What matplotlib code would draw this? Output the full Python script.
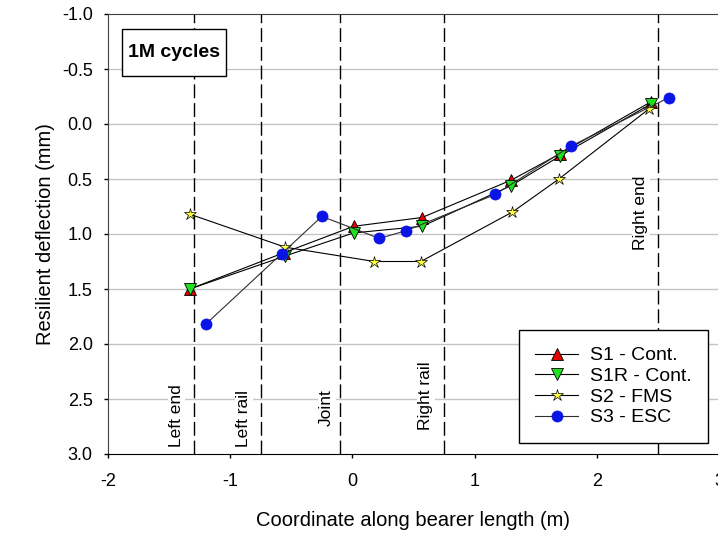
import matplotlib
matplotlib.use('Agg')
import matplotlib.pyplot as plt
from matplotlib.patches import Rectangle

plt.rcParams['font.family'] = ['Liberation Sans', 'DejaVu Sans']
plt.rcParams['font.size'] = 13
plt.rcParams['axes.unicode_minus'] = False

# 数据
s1_x = [-1.33, -0.56, 0.01, 0.57, 1.30, 1.70, 2.44]
s1_y = [1.50, 1.17, 0.93, 0.85, 0.51, 0.27, -0.20]
s1r_x = [-1.33, -0.55, 0.01, 0.57, 1.30, 1.70, 2.44]
s1r_y = [1.50, 1.20, 0.99, 0.93, 0.56, 0.29, -0.18]
s2_x = [-1.33, -0.55, 0.18, 0.56, 1.31, 1.69, 2.43]
s2_y = [0.82, 1.12, 1.25, 1.25, 0.80, 0.50, -0.14]
s3_x = [-1.20, -0.58, -0.25, 0.22, 0.44, 1.17, 1.79, 2.59]
s3_y = [1.82, 1.18, 0.84, 1.04, 0.97, 0.64, 0.20, -0.24]

# 参考线位置和标签
ref_x = [-1.3, -0.75, -0.1, 0.75, 2.5]
ref_labels = ['Left end', 'Left rail', 'Joint', 'Right rail', 'Right end']
ref_label_x = [-1.44, -0.89, -0.21, 0.60, 2.36]
ref_label_y = [2.94, 2.94, 2.75, 2.78, 1.15]

yticks = [-1.0, -0.5, 0.0, 0.5, 1.0, 1.5, 2.0, 2.5, 3.0]

fig = plt.figure(figsize=(7.18, 5.37), dpi=100)
ax = fig.add_axes([108 / 718, 83 / 537, 611 / 718, 440 / 537])

# 水平网格线
for g in yticks[1:-1]:
    ax.axhline(g, color='#c4c4c4', lw=1, zorder=0)

# 竖直虚线和标签
for xv in ref_x:
    ax.axvline(xv, color='black', lw=1, ls=(0, (10, 3.5)), zorder=1)
for xl, yl, lab in zip(ref_label_x, ref_label_y, ref_labels):
    ax.text(xl, yl, lab, rotation=90, ha='center', va='bottom', fontsize=12.5,
            bbox=dict(facecolor='white', edgecolor='none', pad=1), zorder=2)

# 数据线
ax.plot(s1_x, s1_y, color='black', lw=0.8, marker='^', ms=8, mfc='#e00000',
        mec='black', mew=0.6, label='S1 - Cont.', zorder=3)
ax.plot(s1r_x, s1r_y, color='black', lw=0.8, marker='v', ms=8, mfc='#20e020',
        mec='black', mew=0.6, label='S1R - Cont.', zorder=3)
ax.plot(s2_x, s2_y, color='black', lw=0.8, marker='*', ms=9, mfc='#ffff40',
        mec='black', mew=0.5, label='S2 - FMS', zorder=3)
ax.plot(s3_x, s3_y, color='#303030', lw=0.8, marker='o', ms=8, mfc='#0a14e6',
        mec='#0a14e6', mew=0.5, label='S3 - ESC', zorder=3)

ax.set_xlim(-2, 3)
ax.set_ylim(3.0, -1.0)
ax.set_xticks([-2, -1, 0, 1, 2, 3])
ax.set_yticks(yticks)
ax.set_yticklabels([f'{v:.1f}' for v in yticks])
ax.tick_params(direction='out', length=3, width=1, labelsize=13)
ax.tick_params(axis='x', pad=11)
ax.tick_params(axis='y', pad=8)
ax.set_xlabel('Coordinate along bearer length (m)', fontsize=14.5, labelpad=15)
ax.set_ylabel('Resilient deflection (mm)', fontsize=14.5, labelpad=5)
ax.spines['right'].set_visible(False)
ax.spines['top'].set_color('#404040')
ax.spines['left'].set_color('#404040')

# "1M cycles" 标注框
ax.add_patch(Rectangle((0.0229, 0.859), 0.170, 0.107, transform=ax.transAxes,
                       facecolor='white', edgecolor='black', lw=1, zorder=5))
ax.text(0.108, 0.9125, '1M cycles', transform=ax.transAxes, ha='center', va='center',
        fontsize=14, fontweight='bold', zorder=6)

leg = ax.legend(loc='lower right', bbox_to_anchor=(0.982, 0.025), borderaxespad=0,
                fancybox=False, framealpha=1, edgecolor='black', fontsize=14,
                handlelength=2.2, handletextpad=0.6, labelspacing=0.16, borderpad=0.85)
leg.get_frame().set_linewidth(1)

fig.savefig('out.png', dpi=100)
